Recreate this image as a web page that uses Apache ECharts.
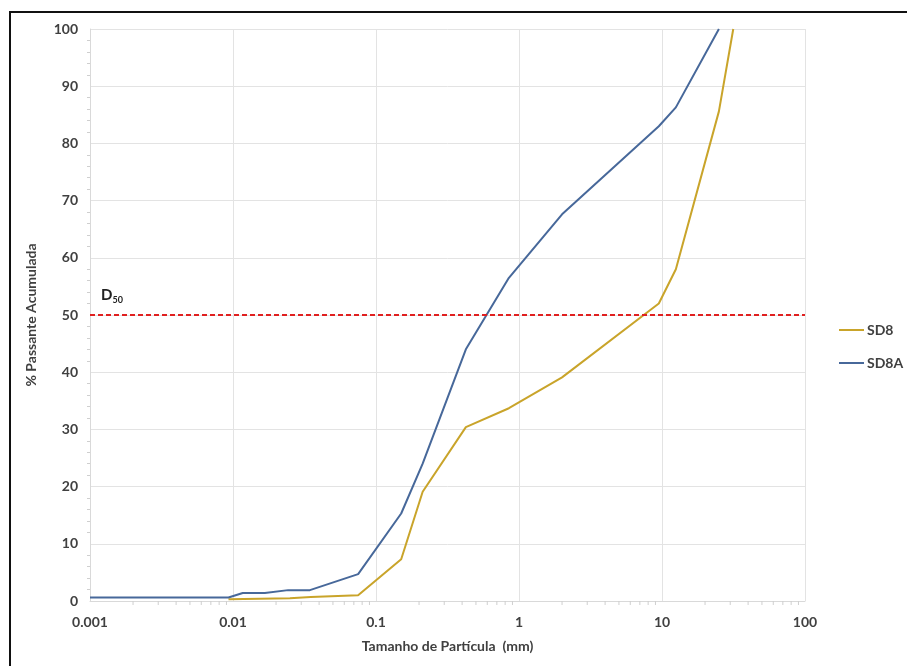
<!DOCTYPE html>
<html>
<head>
<meta charset="utf-8">
<script src="https://cdn.jsdelivr.net/npm/echarts@6/dist/echarts.min.js"></script>
<style>
    html, body { margin: 0; padding: 0; background: #fff; }
    #chart { width: 907px; height: 666px; }
</style>
</head>
<body>
<div id="chart"></div>
<script>
// dados da granulometria (mm, % passante)
let sd8Size = [0.0093, 0.025, 0.035, 0.075, 0.15, 0.212, 0.425, 0.85, 2, 9.5, 12.5, 25, 31.5];
let sd8Pass = [0.3, 0.5, 0.7, 1.0, 7.3, 19.1, 30.4, 33.7, 39.1, 52.0, 58.0, 85.6, 100];
let sd8aSize = [0.001, 0.0093, 0.0117, 0.0167, 0.0243, 0.0345, 0.075, 0.15, 0.212, 0.425, 0.85, 2, 9.5, 12.5, 25];
let sd8aPass = [0.6, 0.6, 1.4, 1.4, 1.9, 1.9, 4.7, 15.3, 24.0, 44.0, 56.5, 67.6, 83.0, 86.3, 100];
let d60Value = 50;

let fontName = 'Lato, "Open Sans", sans-serif';
let textColor = '#404040';
let gridColor = '#e3e3e3';

function pairs(xs, ys) {
    let out = [];
    for (let i = 0; i < xs.length; i++) {
        out.push([xs[i], ys[i]]);
    }
    return out;
}

// marcas menores do eixo log (2..9 em cada década)
let minorTicks = [];
for (let d = -3; d < 2; d++) {
    for (let k = 2; k <= 9; k++) {
        minorTicks.push([k * Math.pow(10, d), 0]);
    }
}

let chart = echarts.init(document.getElementById('chart'));
let option = {
    backgroundColor: '#fff',
    animation: false,
    textStyle: { fontFamily: fontName },
    graphic: [
        {
            type: 'polyline',
            shape: { points: [[10, 666], [10, 12], [907, 12]] },
            style: { stroke: '#111', lineWidth: 2, fill: null }
        },
        {
            type: 'text',
            left: 101,
            top: 288,
            style: {
                text: '{d|D}{s|50}',
                rich: {
                    d: { fontFamily: fontName, fontWeight: 'bold', fontSize: 15, fill: '#222' },
                    s: { fontFamily: fontName, fontWeight: 'bold', fontSize: 9, fill: '#222', verticalAlign: 'bottom', padding: [9, 0, 0, 0] }
                }
            }
        }
    ],
    legend: {
        orient: 'vertical',
        left: 834,
        top: 318,
        itemWidth: 25,
        itemHeight: 2,
        itemGap: 19,
        icon: 'rect',
        data: ['SD8', 'SD8A'],
        textStyle: { fontFamily: fontName, fontWeight: 'bold', fontSize: 14, color: textColor, padding: [0, 0, 0, -2] }
    },
    grid: { left: 90, right: 102, top: 29, bottom: 65 },
    xAxis: {
        type: 'log',
        logBase: 10,
        min: 0.001,
        max: 100,
        name: 'Tamanho de Partícula  (mm)',
        nameLocation: 'middle',
        nameGap: 38,
        nameTextStyle: { fontFamily: fontName, fontWeight: 'bold', fontSize: 14, color: textColor },
        axisLine: { lineStyle: { color: '#d9d9d9' } },
        axisTick: { show: false },
        axisLabel: {
            fontFamily: fontName, fontWeight: 'bold', fontSize: 14, color: textColor, margin: 14,
            formatter: function (v) { return String(parseFloat(Number(v).toPrecision(3))); }
        },
        splitLine: { show: true, lineStyle: { color: gridColor } }
    },
    yAxis: {
        type: 'value',
        min: 0,
        max: 100,
        interval: 10,
        name: '% Passante Acumulada',
        nameLocation: 'middle',
        nameGap: 52,
        nameTextStyle: { fontFamily: fontName, fontWeight: 'bold', fontSize: 14, color: textColor },
        axisLine: { show: true, lineStyle: { color: '#d9d9d9' } },
        axisTick: { show: false },
        minorTick: { show: true, splitNumber: 5, length: 3, lineStyle: { color: '#cfcfcf' } },
        axisLabel: { fontFamily: fontName, fontWeight: 'bold', fontSize: 14, color: textColor, margin: 12 },
        splitLine: { show: true, lineStyle: { color: gridColor } }
    },
    series: [
        {
            name: 'ticks',
            type: 'custom',
            silent: true,
            clip: false,
            data: minorTicks,
            renderItem: function (params, api) {
                let p = api.coord([api.value(0), api.value(1)]);
                return {
                    type: 'line',
                    shape: { x1: p[0], y1: p[1], x2: p[0], y2: p[1] + 4 },
                    style: { stroke: '#cfcfcf', lineWidth: 1 }
                };
            },
            z: 1
        },
        {
            name: 'SD8',
            type: 'line',
            data: pairs(sd8Size, sd8Pass),
            showSymbol: false,
            symbol: 'none',
            color: '#c9a42a',
            lineStyle: { width: 2, color: '#c9a42a' },
            markLine: {
                silent: true,
                symbol: 'none',
                label: { show: false },
                lineStyle: { color: '#e02020', type: [5, 3], width: 2 },
                data: [{ yAxis: d60Value }]
            },
            z: 3
        },
        {
            name: 'SD8A',
            type: 'line',
            data: pairs(sd8aSize, sd8aPass),
            showSymbol: false,
            symbol: 'none',
            color: '#47689a',
            lineStyle: { width: 2, color: '#47689a' },
            z: 4
        }
    ]
};
chart.setOption(option);
</script>
</body>
</html>
